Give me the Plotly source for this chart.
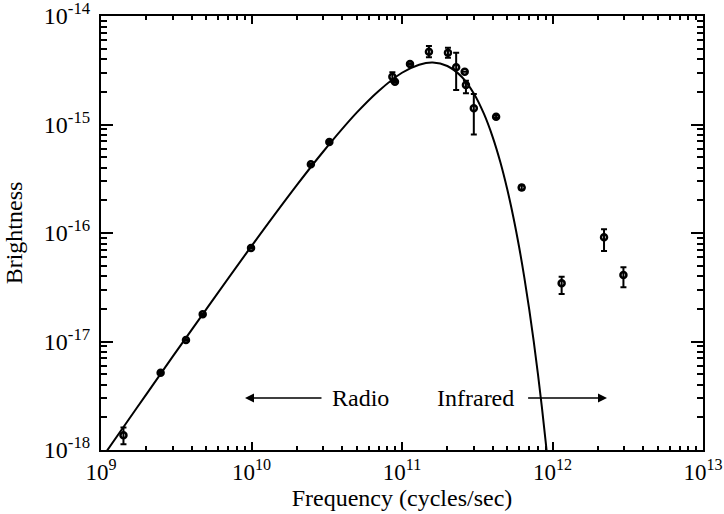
import plotly.graph_objects as go

# Blackbody curve (frequency in Hz, brightness)
curve_freq = [1.0e9, 1.5e9, 2e9, 3e9, 5e9, 1e10, 2e10, 3e10, 5e10, 7e10, 1e11, 1.3e11,
              1.6e11, 2e11, 2.5e11, 3e11, 3.5e11, 4e11, 4.5e11, 5e11, 5.5e11, 6e11,
              6.5e11, 7e11, 7.5e11, 8e11, 8.5e11, 9e11, 9.5e11, 1e12]
curve_bright = [8.21e-19, 1.84e-18, 3.26e-18, 7.3e-18, 1.98e-17, 7.57e-17, 2.76e-16, 5.64e-16,
                1.285e-15, 2.04e-15, 3.0e-15, 3.56e-15, 3.73e-15, 3.46e-15, 2.74e-15,
                1.93e-15, 1.257e-15, 7.7e-16, 4.51e-16, 2.54e-16, 1.39e-16, 7.43e-17,
                3.88e-17, 1.99e-17, 1.01e-17, 5.03e-18, 2.48e-18, 1.21e-18, 5.86e-19, 2.81e-19]

# Measured points
data_freq = [1.41e9, 2.49e9, 3.67e9, 4.74e9, 9.93e9, 2.48e10, 3.29e10, 8.63e10, 8.98e10,
             1.13e11, 1.51e11, 2.02e11, 2.29e11, 2.61e11, 2.66e11, 3.0e11, 4.22e11,
             6.24e11, 1.15e12, 2.20e12, 2.96e12]
data_bright = [1.37e-18, 5.15e-18, 1.03e-17, 1.78e-17, 7.28e-17, 4.30e-16, 6.90e-16, 2.76e-15,
               2.48e-15, 3.61e-15, 4.69e-15, 4.59e-15, 3.37e-15, 3.07e-15, 2.31e-15,
               1.41e-15, 1.18e-15, 2.62e-16, 3.44e-17, 9.12e-17, 4.10e-17]
err_plus = [0.24e-18, 0.1e-18, 0.15e-18, 0.3e-18, 1.0e-18, 0.08e-16, 0.15e-16, 0.27e-15,
            0.05e-15, 0.05e-15, 0.61e-15, 0.51e-15, 1.22e-15, 0.0, 0.22e-15,
            0.50e-15, 0.03e-15, 0.12e-16, 0.52e-17, 1.68e-17, 0.73e-17]
err_minus = [0.24e-18, 0.1e-18, 0.15e-18, 0.3e-18, 1.0e-18, 0.08e-16, 0.15e-16, 0.28e-15,
             0.05e-15, 0.05e-15, 0.53e-15, 0.46e-15, 1.29e-15, 0.0, 0.37e-15,
             0.60e-15, 0.03e-15, 0.12e-16, 0.70e-17, 2.30e-17, 0.94e-17]

x_tick_exp = [9, 10, 11, 12, 13]
y_tick_exp = [-18, -17, -16, -15, -14]

FONT = "Liberation Serif, Times New Roman, serif"

fig = go.Figure()
fig.add_trace(go.Scatter(
    x=curve_freq, y=curve_bright, mode="lines", line=dict(color="black", width=2, shape="spline"),
    showlegend=False, hoverinfo="skip"))
fig.add_trace(go.Scatter(
    x=data_freq, y=data_bright, mode="markers",
    marker=dict(symbol="circle-open", size=6, color="black", line=dict(color="black", width=2.5)),
    error_y=dict(type="data", symmetric=False, array=err_plus, arrayminus=err_minus,
                 color="black", thickness=2, width=3),
    showlegend=False))

def sup(e):
    return "10<sup>%d</sup>" % e

fig.update_xaxes(
    type="log", range=[9, 13], automargin=False, ticklabeloverflow="allow",
    tickvals=[10 ** e for e in x_tick_exp], ticktext=[sup(e) for e in x_tick_exp],
    ticks="inside", ticklen=8, tickwidth=2, tickcolor="black",
    minor=dict(ticks="inside", ticklen=4, tickwidth=1.5, tickcolor="black", dtick="D1", showgrid=False),
    showline=True, linewidth=2, linecolor="black", mirror="allticks",
    showgrid=False, zeroline=False,
    tickfont=dict(family=FONT, size=23, color="black"),
    title=dict(text="Frequency (cycles/sec)", font=dict(family=FONT, size=24, color="black"), standoff=2))
fig.update_yaxes(
    type="log", range=[-18, -14], automargin=False, ticklabeloverflow="allow",
    tickvals=[10 ** e for e in y_tick_exp], ticktext=[sup(e) for e in y_tick_exp],
    ticks="inside", ticklen=12, tickwidth=2, tickcolor="black",
    minor=dict(ticks="inside", ticklen=6, tickwidth=1.5, tickcolor="black", dtick="D1", showgrid=False),
    showline=True, linewidth=2, linecolor="black", mirror="allticks",
    showgrid=False, zeroline=False, ticklabelstandoff=4,
    tickfont=dict(family=FONT, size=24, color="black"),
    title=dict(text="Brightness", font=dict(family=FONT, size=24, color="black"), standoff=14))

ylab = -17.521
fig.add_annotation(x=9.957, y=ylab, ax=10.475, ay=ylab, xref="x", yref="y", axref="x", ayref="y",
                   text="", showarrow=True, arrowhead=2, arrowsize=1.2, arrowwidth=1.5, arrowcolor="black")
fig.add_annotation(x=10.724, y=ylab, xref="x", yref="y", text="Radio", showarrow=False,
                   font=dict(family=FONT, size=24, color="black"))
fig.add_annotation(x=11.49, y=ylab, xref="x", yref="y", text="Infrared", showarrow=False,
                   font=dict(family=FONT, size=24, color="black"))
fig.add_annotation(x=12.362, y=ylab, ax=11.828, ay=ylab, xref="x", yref="y", axref="x", ayref="y",
                   text="", showarrow=True, arrowhead=2, arrowsize=1.2, arrowwidth=1.5, arrowcolor="black")

fig.update_layout(
    width=724, height=514,
    margin=dict(l=101, r=21, t=16, b=64),
    paper_bgcolor="white", plot_bgcolor="white",
    font=dict(family=FONT, color="black"))

# remove the default 8px page margin so the figure fills the window exactly
fig.write_html("out.html", config={"displayModeBar": False},
               post_script="document.body.style.margin='0';")
